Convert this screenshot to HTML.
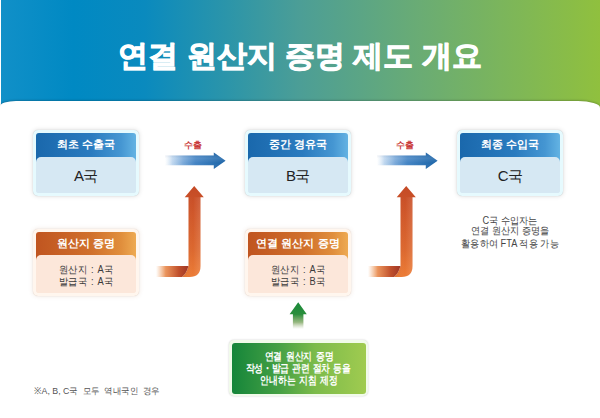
<!DOCTYPE html>
<html><head><meta charset="utf-8">
<style>
*{margin:0;padding:0;box-sizing:border-box}
html,body{width:600px;height:418px;overflow:hidden;background:#fff}
body{position:relative;font-family:"Liberation Sans",sans-serif}
.abs{position:absolute}
.t{position:absolute;white-space:nowrap;text-align:center}
#hdr{left:1px;top:0;width:599px;height:118px;background:linear-gradient(90deg,#1190c8 0%,#0089c3 12%,#0a8abe 24%,#2c95a9 38%,#4c9e96 50%,#6aac74 70%,#90c03e 100%)}
#body{left:0;top:101px;width:600px;height:317px;background:#fff;border-radius:16px 22px 0 0/5.5px 6.5px 0 0;box-shadow:0 -0.5px 2px rgba(0,0,0,.2)}
#title{left:0;top:34px;width:600px;color:#fff;font-weight:bold;font-size:30px;line-height:44px;-webkit-text-stroke:0.9px #fff}
.box{position:absolute;border-radius:5px;box-shadow:0 0 1px rgba(0,0,0,.22),0 0 5px rgba(0,0,0,.14);padding:3px}
.box .in{position:relative;width:100%;height:100%;border-radius:3px;overflow:hidden}
.box .hd{position:absolute;left:0;top:0;width:100%;height:32px;color:#fff;font-weight:bold;font-size:11px;text-align:center;line-height:23px;white-space:nowrap}
.box .bd{position:absolute;left:0;top:24px;width:100%;bottom:0;border-radius:5px 5px 0 0}
.bbox{background:#e6fafe}
.bbox .in{background:#d6e8f3}
.bbox .hd{background:linear-gradient(90deg,#1a68ac,#2a7bbf 55%,#4596d2 85%,#63b3e3)}
.bbox .bd{background:#d6e8f3;text-align:center;font-size:15px;line-height:38px;color:#222;letter-spacing:-0.6px}
.obox{background:#fff6ee;box-shadow:0 0 1px rgba(120,60,20,.25),0 0 5px rgba(150,80,30,.14)}
.obox .in{background:#fce7da}
.obox .hd{background:linear-gradient(90deg,#c05520,#d0702c 55%,#e08e3c 85%,#eeaa52)}
.obox .bd{background:#fce7da;color:#3a3a3a;font-size:10px;top:23px}
.obox .bd .t{left:0;width:100%;line-height:12px;transform:scaleX(0.93);word-spacing:1.5px}
.lbl{color:#c93838;font-weight:bold;font-size:9px;width:40px;line-height:12px}
.ct{left:440px;width:140px;font-size:10px;line-height:12px;color:#444;transform:scaleX(0.92)}
#gbox{position:absolute;left:229px;top:340px;width:139px;height:56px;border-radius:5px;background:#f1fbea;box-shadow:0 0 2px rgba(0,0,0,.22);padding:2.5px}
#gbox .in{position:relative;width:100%;height:100%;border-radius:3px;background:linear-gradient(90deg,#15853a,#45a044 35%,#7cbb4a 62%,#a0cb50)}
.gt{left:0;width:134px;color:#fff;font-weight:bold;font-size:11px;line-height:12px;transform:scaleX(0.8);word-spacing:1.5px}
#foot{left:34px;top:384px;font-size:9.4px;color:#555;line-height:14px;transform:scaleX(0.94);transform-origin:0 0}
#foot i{display:inline-block;width:5px}
</style></head>
<body>
<div id="hdr" class="abs"></div>
<div id="body" class="abs"></div>
<div id="title" class="t">연결 원산지 증명 제도 개요</div>

<div class="box bbox" style="left:33px;top:130px;width:106px;height:66px"><div class="in"><div class="hd">최초 수출국</div><div class="bd">A국</div></div></div>
<div class="box bbox" style="left:245px;top:130px;width:106px;height:66px"><div class="in"><div class="hd">중간 경유국</div><div class="bd">B국</div></div></div>
<div class="box bbox" style="left:457px;top:130px;width:106px;height:66px"><div class="in"><div class="hd">최종 수입국</div><div class="bd">C국</div></div></div>

<div class="t lbl" style="left:173px;top:139px">수출</div>
<div class="t lbl" style="left:385px;top:139px">수출</div>

<svg class="abs" style="left:0;top:0" width="600" height="418" viewBox="0 0 600 418">
<defs>
<linearGradient id="ba" x1="0" x2="1" y1="0" y2="0"><stop offset="0" stop-color="#cfe2f4" stop-opacity="0"/><stop offset="0.12" stop-color="#b4d0ec" stop-opacity="0.85"/><stop offset="0.3" stop-color="#7aa9d9"/><stop offset="0.5" stop-color="#4484c4"/><stop offset="0.8" stop-color="#2a70b2"/><stop offset="1" stop-color="#1c64a8"/></linearGradient>
<linearGradient id="bs" x1="0" x2="0" y1="0" y2="1"><stop offset="0" stop-color="#0a2a60" stop-opacity="0.15"/><stop offset="0.35" stop-color="#fff" stop-opacity="0.12"/><stop offset="0.65" stop-color="#fff" stop-opacity="0"/><stop offset="1" stop-color="#0a2a60" stop-opacity="0.12"/></linearGradient>
<linearGradient id="ov" x1="0" x2="0" y1="0" y2="1"><stop offset="0" stop-color="#c44a26"/><stop offset="0.3" stop-color="#d0572a"/><stop offset="0.7" stop-color="#dc682f"/><stop offset="1" stop-color="#ec7c36"/></linearGradient>
<linearGradient id="osh" x1="0" x2="1" y1="0" y2="0"><stop offset="0" stop-color="#000" stop-opacity="0.06"/><stop offset="0.6" stop-color="#fff" stop-opacity="0"/><stop offset="1" stop-color="#fff" stop-opacity="0.12"/></linearGradient>
<linearGradient id="oh" x1="0" x2="1" y1="0" y2="0"><stop offset="0" stop-color="#f0a060" stop-opacity="0"/><stop offset="0.3" stop-color="#e8884a" stop-opacity="0.9"/><stop offset="0.7" stop-color="#c0502c"/><stop offset="1" stop-color="#9e3626"/></linearGradient>
<linearGradient id="gv" x1="0" x2="0" y1="0" y2="1"><stop offset="0" stop-color="#1a8a3a"/><stop offset="0.45" stop-color="#2a8e3c"/><stop offset="0.75" stop-color="#6a9a4a" stop-opacity="0.7"/><stop offset="1" stop-color="#a0b080" stop-opacity="0"/></linearGradient>
</defs>
<!-- blue arrows -->
<path d="M165 155.6 H213.8 V152.5 L225.6 160.8 L213.8 169 V165.2 H165 Z" fill="url(#ba)"/>
<path d="M165 155.6 H213.8 V152.5 L225.6 160.8 L213.8 169 V165.2 H165 Z" fill="url(#bs)"/>
<path d="M377 155.6 H425.8 V152.5 L437.6 160.8 L425.8 169 V165.2 H377 Z" fill="url(#ba)"/>
<path d="M377 155.6 H425.8 V152.5 L437.6 160.8 L425.8 169 V165.2 H377 Z" fill="url(#bs)"/>
<!-- orange L arrows -->
<path d="M188.5 197.3 H184.7 L194.2 186 L203.8 197.3 H200.5 V266 Q200.5 277 189.5 277 H182 Q186.5 273.5 188.5 266 Z" fill="url(#ov)"/>
<path d="M188.5 197.3 H200.5 V266 Q200.5 277 189.5 277 H182 Q186.5 273.5 188.5 266 Z" fill="url(#osh)"/>
<path d="M156 266 H188.5 Q186.5 273.5 182 277 H156 Z" fill="url(#oh)"/>
<path d="M400.5 197.3 H396.7 L406.2 186 L415.8 197.3 H412.5 V266 Q412.5 277 401.5 277 H394 Q398.5 273.5 400.5 266 Z" fill="url(#ov)"/>
<path d="M400.5 197.3 H412.5 V266 Q412.5 277 401.5 277 H394 Q398.5 273.5 400.5 266 Z" fill="url(#osh)"/>
<path d="M368 266 H400.5 Q398.5 273.5 394 277 H368 Z" fill="url(#oh)"/>
<!-- green arrow -->
<path d="M298.2 302.3 L306.8 314.3 H303.4 V329 H292.9 V314.3 H289.6 Z" fill="url(#gv)"/>
</svg>

<div class="box obox" style="left:33px;top:229px;width:106px;height:67px"><div class="in"><div class="hd">원산지 증명</div><div class="bd"><div class="t" style="top:9px">원산지 : A국</div><div class="t" style="top:21px">발급국 : A국</div></div></div></div>
<div class="box obox" style="left:245px;top:229px;width:106px;height:67px"><div class="in"><div class="hd">연결 원산지 증명</div><div class="bd"><div class="t" style="top:9px">원산지 : A국</div><div class="t" style="top:21px">발급국 : B국</div></div></div></div>

<div class="t ct" style="top:214.5px">C국 수입자는</div>
<div class="t ct" style="top:225px">연결 원산지 증명을</div>
<div class="t ct" style="top:238px">활용하여 FTA 적용 가능</div>

<div id="gbox"><div class="in">
<div class="t gt" style="top:7.5px">연결 원산지 증명</div>
<div class="t gt" style="top:19.5px;left:-1px;word-spacing:0.8px;letter-spacing:-0.1px">작성・발급 관련 절차 등을</div>
<div class="t gt" style="top:31.5px">안내하는 지침 제정</div>
</div></div>

<div id="foot" class="t">※A, B, C국<i></i>모두<i></i>역내국인<i></i>경우</div>
</body></html>
